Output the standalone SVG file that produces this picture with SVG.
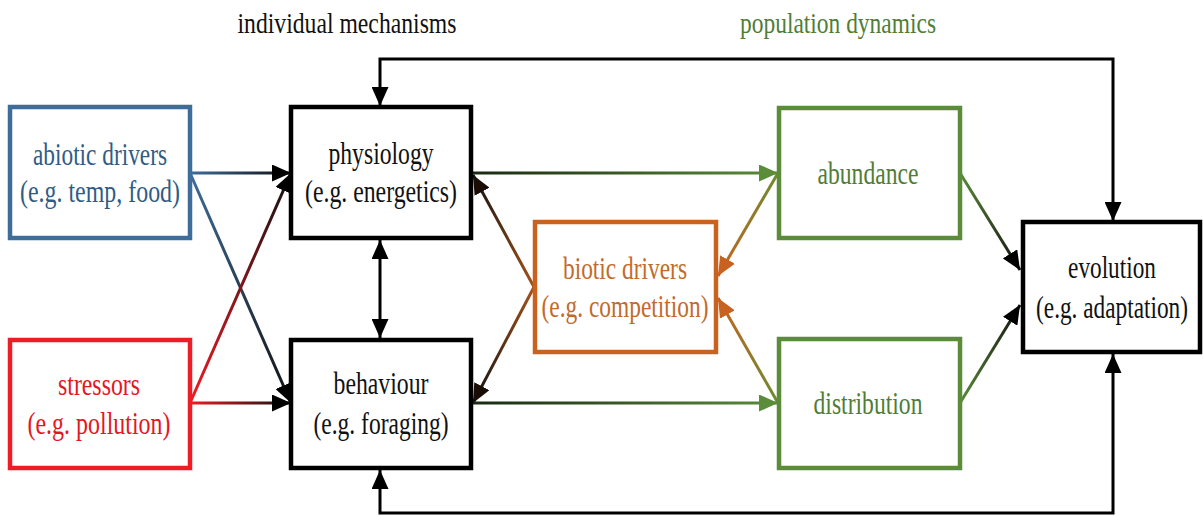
<svg xmlns="http://www.w3.org/2000/svg" width="1203" height="516" viewBox="0 0 1203 516">
<style>
text{font-family:"Liberation Serif","Times New Roman",serif;font-size:32px;text-anchor:middle}
.ttl{font-size:30px}
.box{fill:#fff;stroke-width:4.5}
.k{stroke:#000}.b{stroke:#3f6d9a}.r{stroke:#ee1c24}.o{stroke:#c9621f}.g{stroke:#5b8c3a}
.tk{fill:#111}.tb{fill:#2f5c86}.tr{fill:#e4161e}.to{fill:#c26a2c}.tg{fill:#4f7d35}
.ln{fill:none;stroke-width:3}
</style>
<defs>
<marker id="ak" markerUnits="userSpaceOnUse" markerWidth="20" markerHeight="17" refX="19" refY="8.5" orient="auto-start-reverse"><path d="M0,0 L19,8.5 L0,17 z" fill="#000"/></marker>
<marker id="ag" markerUnits="userSpaceOnUse" markerWidth="20" markerHeight="17" refX="19" refY="8.5" orient="auto"><path d="M0,0 L19,8.5 L0,17 z" fill="#5b8c3a"/></marker>
<marker id="ao" markerUnits="userSpaceOnUse" markerWidth="20" markerHeight="17" refX="19" refY="8.5" orient="auto"><path d="M0,0 L19,8.5 L0,17 z" fill="#c9621f"/></marker>
<marker id="ad" markerUnits="userSpaceOnUse" markerWidth="20" markerHeight="17" refX="19" refY="8.5" orient="auto"><path d="M0,0 L19,8.5 L0,17 z" fill="#1a0d05"/></marker>
<linearGradient id="g1" gradientUnits="userSpaceOnUse" x1="190" y1="0" x2="290" y2="0"><stop offset="0" stop-color="#3f6d9a"/><stop offset="1" stop-color="#111"/></linearGradient>
<linearGradient id="g2" gradientUnits="userSpaceOnUse" x1="190" y1="173" x2="290" y2="403"><stop offset="0" stop-color="#3f6d9a"/><stop offset="1" stop-color="#111"/></linearGradient>
<linearGradient id="g3" gradientUnits="userSpaceOnUse" x1="190" y1="403" x2="290" y2="173"><stop offset="0" stop-color="#ee1c24"/><stop offset="1" stop-color="#111"/></linearGradient>
<linearGradient id="g4" gradientUnits="userSpaceOnUse" x1="190" y1="0" x2="290" y2="0"><stop offset="0" stop-color="#ee1c24"/><stop offset="1" stop-color="#111"/></linearGradient>
<linearGradient id="g5" gradientUnits="userSpaceOnUse" x1="473" y1="0" x2="778" y2="0"><stop offset="0" stop-color="#1a2a12"/><stop offset="1" stop-color="#5b8c3a"/></linearGradient>
<linearGradient id="g6" gradientUnits="userSpaceOnUse" x1="534" y1="287" x2="473" y2="175"><stop offset="0" stop-color="#a5521a"/><stop offset="1" stop-color="#111"/></linearGradient>
<linearGradient id="g7" gradientUnits="userSpaceOnUse" x1="534" y1="287" x2="473" y2="403"><stop offset="0" stop-color="#a5521a"/><stop offset="1" stop-color="#111"/></linearGradient>
<linearGradient id="g8" gradientUnits="userSpaceOnUse" x1="778" y1="173" x2="718" y2="276"><stop offset="0" stop-color="#6a8c30"/><stop offset="1" stop-color="#c9621f"/></linearGradient>
<linearGradient id="g9" gradientUnits="userSpaceOnUse" x1="778" y1="403" x2="718" y2="298"><stop offset="0" stop-color="#6a8c30"/><stop offset="1" stop-color="#c9621f"/></linearGradient>
<linearGradient id="g10" gradientUnits="userSpaceOnUse" x1="960" y1="173" x2="1020" y2="270"><stop offset="0" stop-color="#5b8c3a"/><stop offset="1" stop-color="#111"/></linearGradient>
<linearGradient id="g11" gradientUnits="userSpaceOnUse" x1="960" y1="403" x2="1020" y2="305"><stop offset="0" stop-color="#5b8c3a"/><stop offset="1" stop-color="#111"/></linearGradient>
</defs>

<g id="connectors">
<line class="ln" x1="190" y1="173" x2="291" y2="173" stroke="url(#g1)" marker-end="url(#ak)"/>
<line class="ln" x1="190" y1="173" x2="291" y2="403" stroke="url(#g2)" marker-end="url(#ak)"/>
<line class="ln" x1="190" y1="403" x2="291" y2="173" stroke="url(#g3)" marker-end="url(#ak)"/>
<line class="ln" x1="190" y1="403" x2="291" y2="403" stroke="url(#g4)" marker-end="url(#ak)"/>
<line class="ln" x1="380" y1="240" x2="380" y2="338" stroke="#000" marker-start="url(#ak)" marker-end="url(#ak)"/>
<line class="ln" x1="534" y1="287" x2="473" y2="175" stroke="url(#g6)" marker-end="url(#ad)"/>
<line class="ln" x1="534" y1="287" x2="473" y2="403" stroke="url(#g7)" marker-end="url(#ad)"/>
<line class="ln" x1="473" y1="173" x2="778" y2="173" stroke="url(#g5)" marker-end="url(#ag)"/>
<line class="ln" x1="473" y1="403" x2="778" y2="403" stroke="url(#g5)" marker-end="url(#ag)"/>
<line class="ln" x1="778" y1="173" x2="718" y2="276" stroke="url(#g8)" marker-end="url(#ao)"/>
<line class="ln" x1="778" y1="403" x2="718" y2="298" stroke="url(#g9)" marker-end="url(#ao)"/>
<line class="ln" x1="960" y1="173" x2="1020" y2="270" stroke="url(#g10)" marker-end="url(#ak)"/>
<line class="ln" x1="960" y1="403" x2="1020" y2="305" stroke="url(#g11)" marker-end="url(#ak)"/>
<path class="ln" d="M380,106 V59 H1113 V221" stroke="#000" marker-start="url(#ak)" marker-end="url(#ak)"/>
<path class="ln" d="M380,470 V513 H1113 V354" stroke="#000" marker-start="url(#ak)" marker-end="url(#ak)"/>
</g>

<g id="title-individual"><text class="tk ttl" x="347" y="33" textLength="219" lengthAdjust="spacingAndGlyphs">individual mechanisms</text></g>
<g id="title-population"><text class="tg ttl" x="838" y="33" textLength="196" lengthAdjust="spacingAndGlyphs">population dynamics</text></g>

<g id="abiotic"><rect class="box b" x="10" y="107" width="180" height="131"/>
<text class="tb" x="100" y="165" textLength="134" lengthAdjust="spacingAndGlyphs">abiotic drivers</text>
<text class="tb" x="100" y="202" textLength="160" lengthAdjust="spacingAndGlyphs">(e.g. temp, food)</text></g>

<g id="stressors"><rect class="box r" x="10" y="340" width="180" height="128"/>
<text class="tr" x="99" y="395" textLength="82" lengthAdjust="spacingAndGlyphs">stressors</text>
<text class="tr" x="99" y="434" textLength="143" lengthAdjust="spacingAndGlyphs">(e.g. pollution)</text></g>

<g id="physiology"><rect class="box k" x="291" y="107" width="180" height="131" stroke-width="5"/>
<text class="tk" x="381" y="164" textLength="105" lengthAdjust="spacingAndGlyphs">physiology</text>
<text class="tk" x="381" y="202" textLength="152" lengthAdjust="spacingAndGlyphs">(e.g. energetics)</text></g>

<g id="behaviour"><rect class="box k" x="291" y="340" width="180" height="128" stroke-width="5"/>
<text class="tk" x="381" y="394" textLength="95" lengthAdjust="spacingAndGlyphs">behaviour</text>
<text class="tk" x="381" y="434" textLength="135" lengthAdjust="spacingAndGlyphs">(e.g. foraging)</text></g>

<g id="biotic"><rect class="box o" x="535" y="222" width="181" height="130"/>
<text class="to" x="625" y="279" textLength="124" lengthAdjust="spacingAndGlyphs">biotic drivers</text>
<text class="to" x="625" y="317" textLength="167" lengthAdjust="spacingAndGlyphs">(e.g. competition)</text></g>

<g id="abundance"><rect class="box g" x="779" y="108" width="181" height="130"/>
<text class="tg" x="868" y="184" textLength="101" lengthAdjust="spacingAndGlyphs">abundance</text></g>

<g id="distribution"><rect class="box g" x="779" y="339" width="181" height="129"/>
<text class="tg" x="868" y="414" textLength="109" lengthAdjust="spacingAndGlyphs">distribution</text></g>

<g id="evolution"><rect class="box k" x="1023" y="222" width="177" height="130" stroke-width="5"/>
<text class="tk" transform="translate(1112 278) scale(0.72 1)" x="0" y="0" textLength="122" lengthAdjust="spacingAndGlyphs">evolution</text>
<text class="tk" transform="translate(1112 318) scale(0.72 1)" x="0" y="0" textLength="211" lengthAdjust="spacingAndGlyphs">(e.g. adaptation)</text></g>
</svg>
